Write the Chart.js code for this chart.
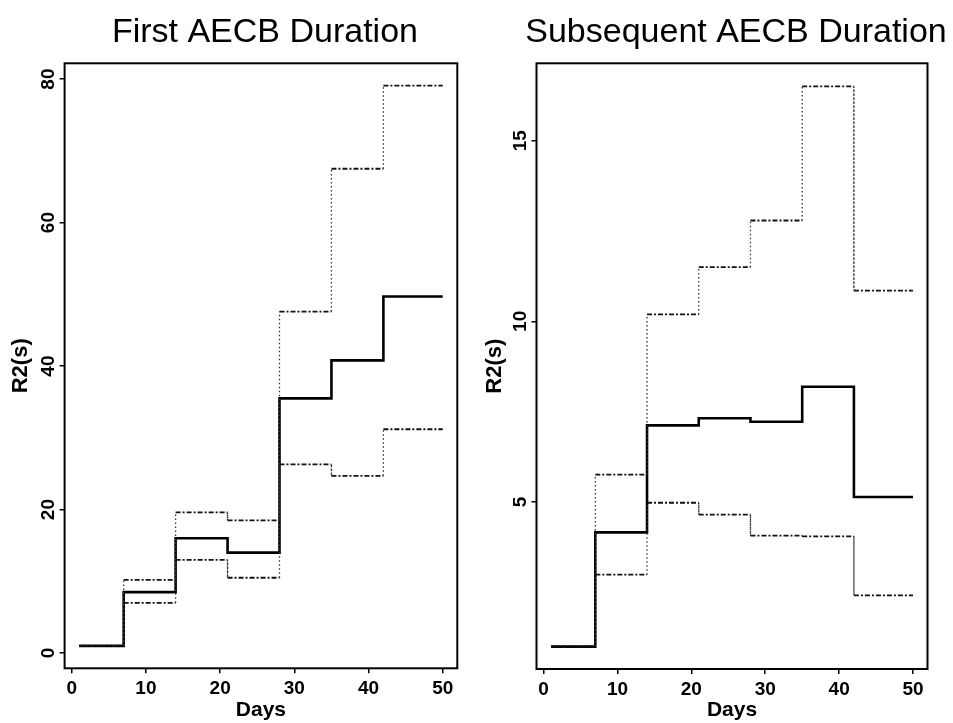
<!DOCTYPE html>
<html>
<head>
<meta charset="utf-8">
<title>AECB Duration</title>
<script src="https://cdn.jsdelivr.net/npm/chart.js@4.4.1/dist/chart.umd.min.js"></script>
<style>
  html, body { margin: 0; padding: 0; background: #fff; }
  .panel { position: absolute; top: 0; height: 723px; }
  #p1 { left: 0; width: 476px; }
  #p2 { left: 476px; width: 477px; }
</style>
</head>
<body>
<div class="panel" id="p1"><canvas id="c1"></canvas></div>
<div class="panel" id="p2"><canvas id="c2"></canvas></div>
<script>
// dias em que cada degrau começa, e o último dia
const stepDays = [1, 7, 14, 21, 28, 35, 42];
const lastDay = 50;
const xTicks = [0, 10, 20, 30, 40, 50];

// First AECB Duration
const firstEst   = [1.0, 8.5, 16.0, 14.0, 35.5, 40.8, 49.7];
const firstUpper = [1.0, 10.2, 19.6, 18.5, 47.6, 67.5, 79.1];
const firstLower = [1.0, 7.0, 13.0, 10.5, 26.3, 24.7, 31.2];
const firstYTicks = [0, 20, 40, 60, 80];

// Subsequent AECB Duration
const subEst   = [1.0, 4.16, 7.12, 7.32, 7.22, 8.19, 5.14];
const subUpper = [1.0, 5.76, 10.19, 11.5, 12.79, 16.5, 10.85];
const subLower = [1.0, 2.99, 4.98, 4.65, 4.07, 4.05, 2.42];
const subYTicks = [5, 10, 15];

const FONT = '"Liberation Sans", Arial, Helvetica, sans-serif';

// transforma os degraus em pontos (horizontal, depois vertical)
function stepPoints(vals) {
  const pts = [];
  for (let i = 0; i < stepDays.length; i++) {
    const fim = i + 1 < stepDays.length ? stepDays[i + 1] : lastDay;
    pts.push({ x: stepDays[i], y: vals[i] });
    pts.push({ x: fim, y: vals[i] });
  }
  return pts;
}

const isFlat = ctx => ctx.p0.parsed.y === ctx.p1.parsed.y;

function bandDataset(vals) {
  return {
    data: stepPoints(vals),
    borderColor: "#000",
    borderWidth: 1.6,
    pointRadius: 0,
    segment: {
      borderDash: ctx => (isFlat(ctx) ? [5, 2, 2, 2] : [1.5, 2.5]),
      borderWidth: ctx => (isFlat(ctx) ? 1.8 : 1.3),
      borderColor: ctx => (isFlat(ctx) ? "#111" : "#333")
    }
  };
}

const frame = {
  id: "frame",
  afterDraw(chart, args, opts) {
    const { ctx, chartArea: a } = chart;
    const y = chart.scales.y;
    ctx.save();
    ctx.strokeStyle = "#000";
    ctx.lineWidth = 2;
    ctx.strokeRect(a.left, a.top, a.right - a.left, a.bottom - a.top);

    ctx.fillStyle = "#000";
    ctx.font = `34px ${FONT}`;
    ctx.textAlign = "center";
    ctx.textBaseline = "alphabetic";
    ctx.fillText(opts.title, (a.left + a.right) / 2 + 4, 42);

    ctx.font = `bold 19px ${FONT}`;
    ctx.textBaseline = "middle";
    y.ticks.forEach(t => {
      const py = y.getPixelForValue(t.value);
      ctx.save();
      ctx.translate(a.left - 16, py);
      ctx.rotate(-Math.PI / 2);
      ctx.fillText(String(t.value), 0, 0);
      ctx.restore();
    });
    ctx.restore();
  }
};

function makeChart(id, title, est, upper, lower, yTicks, yMin, yMax, geo) {
  return new Chart(document.getElementById(id), {
    type: "line",
    data: {
      datasets: [
        bandDataset(upper),
        bandDataset(lower),
        { data: stepPoints(est), borderColor: "#000", borderWidth: 2.6, pointRadius: 0 }
      ]
    },
    options: {
      responsive: true,
      maintainAspectRatio: false,
      animation: false,
      layout: { padding: { top: geo.top, right: geo.right, left: 0, bottom: 0 } },
      plugins: {
        legend: { display: false },
        tooltip: { enabled: false },
        title: { display: false },
        frame: { title }
      },
      scales: {
        x: {
          type: "linear",
          min: -0.96,
          max: 51.96,
          afterBuildTicks: s => { s.ticks = xTicks.map(v => ({ value: v })); },
          afterFit: s => { s.height = geo.bottom; },
          grid: { drawOnChartArea: false, drawTicks: true, tickLength: 5, color: "#000", lineWidth: 1.5 },
          border: { display: false },
          ticks: { color: "#000", padding: 4, maxRotation: 0, font: { family: FONT, size: 19, weight: "bold" } },
          title: { display: true, text: "Days", color: "#000", padding: { top: 0, bottom: 0 }, font: { family: FONT, size: 21, weight: "bold" } }
        },
        y: {
          type: "linear",
          min: yMin,
          max: yMax,
          afterBuildTicks: s => { s.ticks = yTicks.map(v => ({ value: v })); },
          afterFit: s => { s.width = geo.left; },
          grid: { drawOnChartArea: false, drawTicks: true, tickLength: 5, color: "#000", lineWidth: 1.5 },
          border: { display: false },
          ticks: { display: false },
          title: { display: true, text: "R2(s)", color: "#000", padding: { top: geo.yTitlePad, bottom: 0 }, font: { family: FONT, size: 22, weight: "bold" } }
        }
      }
    },
    plugins: [frame]
  });
}

makeChart("c1", "First AECB Duration", firstEst, firstUpper, firstLower, firstYTicks, -2.12, 82.2,
  { top: 63.3, right: 18.7, left: 64.6, bottom: 54.7, yTitlePad: 8 });
makeChart("c2", "Subsequent AECB Duration", subEst, subUpper, subLower, subYTicks, 0.38, 17.14,
  { top: 63.3, right: 25.5, left: 60.5, bottom: 54, yTitlePad: 6 });
</script>
</body>
</html>
